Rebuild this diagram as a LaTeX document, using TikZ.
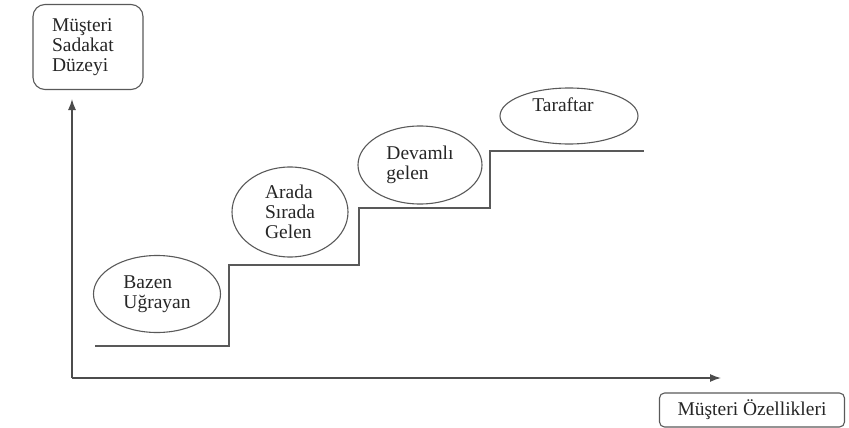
\documentclass[tikz,border=0pt]{standalone}
\usepackage{fontspec}
\setmainfont{Liberation Serif}
\usetikzlibrary{shapes.geometric, arrows.meta}
\tikzstyle{titlebox} =[rectangle, rounded corners=12pt, minimum width=110pt, minimum height=85pt, text width=72pt, align=left, draw=black!65, line width=1.1pt]
\tikzstyle{axisbox} =[rectangle, rounded corners=5pt, minimum width=185pt, minimum height=34pt, text centered, draw=black!65, line width=1.1pt]
\tikzstyle{oval} =[ellipse, inner sep=0pt, align=left, draw=black!65, line width=1.1pt]
\tikzstyle{stair} =[draw=black!65, line width=1.3pt]
\tikzstyle{arrow} =[line width=1.3pt, draw=black!70, -{Latex[length=11pt, width=8pt]}]

\begin{document}
\begin{tikzpicture}[x=1pt, y=-1pt, font=\fontsize{19.5}{20}\selectfont, text=black!85]
\useasboundingbox (0,0) rectangle (849,428);
\node (level) [titlebox] at (88,47) {Müşteri\\Sadakat\\Düzeyi};
\node (traits) [axisbox] at (752,410) {Müşteri Özellikleri};
\coordinate (origin) at (72,378);
\coordinate (ytip) at (72,99);
\coordinate (xtip) at (721,378);
\draw [arrow] (origin)--(ytip);
\draw [arrow] (origin)--(xtip);
% basamaklar
\coordinate (s0) at (95,346);
\coordinate (s1) at (229,265);
\coordinate (s2) at (359,208);
\coordinate (s3) at (490,151);
\coordinate (s4) at (644,151);
\draw [stair] (s0) -| (s1) -| (s2) -| (s3) -- (s4);
\node (bazen) [oval, minimum width=127pt, minimum height=77pt] at (157,294) {Bazen\\Uğrayan};
\node (arada) [oval, minimum width=116pt, minimum height=90pt] at (290,212) {Arada\\Sırada\\Gelen};
\node (devamli) [oval, minimum width=124pt, minimum height=78pt] at (420,165) {Devamlı\\gelen};
\node (taraftar) [oval, minimum width=138pt, minimum height=56pt] at (569,116) {};
\node (taraftartext) at (563,105) {Taraftar};
\end{tikzpicture}
\end{document}
